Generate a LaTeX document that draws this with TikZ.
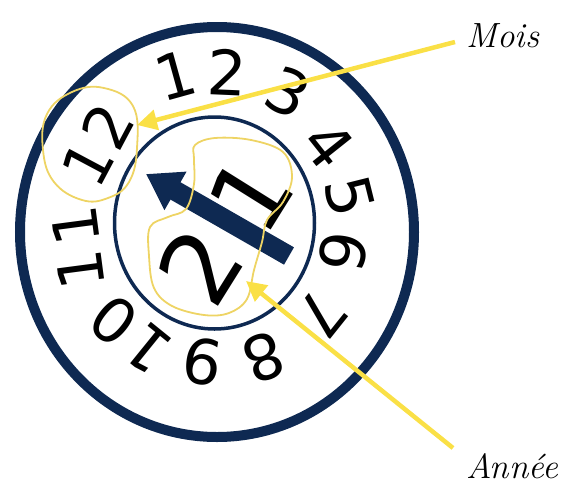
\documentclass[tikz,border=0pt]{standalone}
\usepackage{fontspec}
\newfontfamily\digitfont{DejaVu Sans}
\usetikzlibrary{arrows.meta}
\definecolor{navy}{RGB}{14,41,82}
\definecolor{ylw}{RGB}{250,224,70}
\definecolor{blobc}{RGB}{238,212,100}
\begin{document}
\begin{tikzpicture}[x=1pt,y=-1pt,
  dig/.style={font=\digitfont\fontsize{62}{62}\selectfont, inner sep=0pt},
  bigdig/.style={font=\digitfont\fontsize{100}{100}\selectfont, inner sep=0pt},
  lbl/.style={font=\itshape\fontsize{35}{35}\selectfont, inner sep=0pt},
  yarrow/.style={draw=ylw, line width=4.5pt, -{Triangle[length=20pt,width=20pt]}},
  blobline/.style={draw=blobc, line width=1.8pt}]
\useasboundingbox (0,0) rectangle (562,485);
% rings
\draw[navy, line width=10pt] (217,232) ellipse [x radius=197pt, y radius=205pt];
\draw[navy, line width=3.5pt] (214.5,223) ellipse [x radius=100pt, y radius=106pt];
% hand
\coordinate (handtail) at (289,256);
\coordinate (handtip) at (146,174);
\draw[navy, line width=20pt, -{Triangle[length=34pt,width=42pt]}] (handtail) -- (handtip);
% ring digits
\node[dig, rotate=15.5]  (d1)  at (175,75)  {1};
\node[dig, rotate=-2.5]  (d2)  at (227,72)  {2};
\node[dig, rotate=-27]   (d3)  at (288,92)  {3};
\node[dig, rotate=-51.5] (d4)  at (328,145) {4};
\node[dig, rotate=-76]   (d5)  at (350,196) {5};
\node[dig, rotate=-100]  (d6)  at (343,252) {6};
\node[dig, rotate=-128.6](d7)  at (322,314) {7};
\node[dig, rotate=-159.7](d8)  at (264,358) {8};
\node[dig, rotate=171]   (d9)  at (202,362) {9};
\node[dig, rotate=141]   (d10) at (131,335) {1\kern5pt0};
\node[dig, rotate=97.5]  (d11) at (78,248)  {1\kern5pt1};
\node[dig, rotate=62]    (d12) at (97,145)  {1\kern3pt2};
% year digits
\node[bigdig, rotate=58] (y2) at (200,266) {2};
\node[bigdig, rotate=58] (y1) at (250,194) {1};
% blobs
\draw[blobline] plot[smooth cycle, tension=0.7] coordinates {
  (104,88) (133,106) (137,148) (129,182) (108,198) (82,200) (54,182) (43,150) (47,114) (72,92)};
\draw[blobline] plot[smooth cycle, tension=0.6] coordinates {
  (195,145) (215,138) (251,140) (283,152) (292,177) (283,202) (267,220) (262,242) (254,270)
  (247,299) (229,313) (204,315) (172,306) (154,288) (149,256) (150,227) (168,217) (186,209)
  (194,184) (194,159)};
% labels and pointers
\node[lbl] (mois) at (503,36) {Mois};
\node[lbl] (annee) at (512,466) {Année};
\coordinate (moistail) at (455,42);
\coordinate (moistip) at (137,125);
\coordinate (anneetail) at (453,448);
\coordinate (anneetip) at (246,281);
\draw[yarrow] (moistail) -- (moistip);
\draw[yarrow] (anneetail) -- (anneetip);
\end{tikzpicture}
\end{document}
